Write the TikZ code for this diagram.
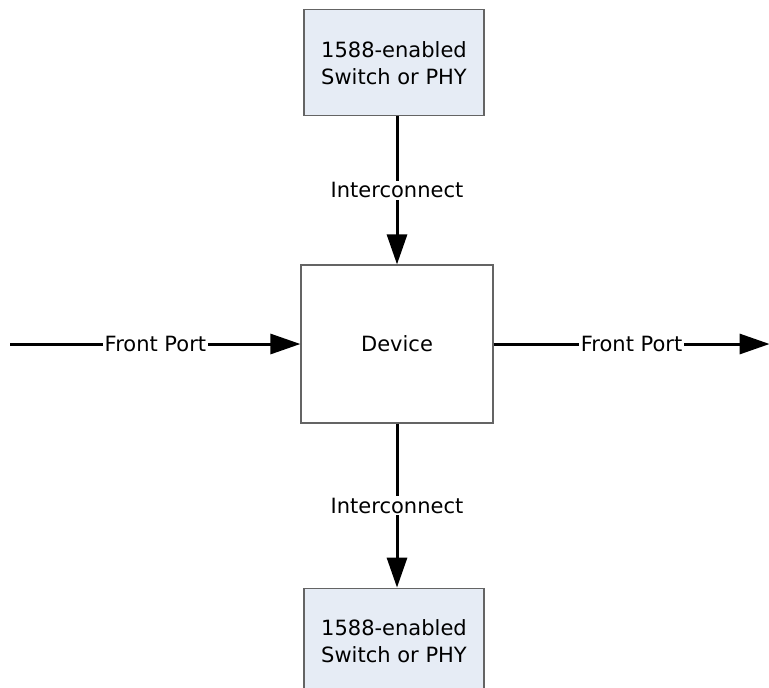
\documentclass[tikz,border=0pt]{standalone}
\usepackage{fontspec}
\setmainfont{DejaVu Sans}
\usetikzlibrary{positioning,arrows.meta}
\definecolor{boxfill}{RGB}{230,236,245}
\definecolor{boxline}{RGB}{100,100,100}
\begin{document}
\begin{tikzpicture}[>={Triangle[length=15pt,width=10pt]},
		font=\fontsize{10.5}{13.5}\selectfont,
		swbox/.style={draw=boxline, line width=0.6pt, fill=boxfill, minimum width=90pt, minimum height=53pt, align=center, inner sep=0pt},
		devbox/.style={draw=boxline, line width=0.6pt, fill=white, minimum width=96pt, minimum height=79pt, inner sep=0pt},
		link/.style={->, line width=1.5pt, black},
		lbl/.style={fill=white, inner sep=1pt}]
				\useasboundingbox (0,0) rectangle (384.5pt,-343.5pt);
				% Khối thiết bị ở giữa
				\node[devbox] (device) at (198.5pt,-172pt) {Device};
				% Hai khối switch trên và dưới
				\node[swbox, above=74pt of device.north, anchor=south, xshift=-1.5pt] (swtop) {1588-enabled\\Switch or PHY};
				\node[swbox, below=82pt of device.south, anchor=north, xshift=-1.5pt] (swbot) {1588-enabled\\Switch or PHY};
				% Điểm đầu và cuối của cổng trước
				\coordinate[left=145pt of device.west] (inport);
				\coordinate[right=138pt of device.east] (outport);
				% Các mũi tên nối
				\draw[link] (swtop.south -| device.north) -- node[lbl] {Interconnect} (device.north);
				\draw[link] (device.south) -- node[lbl] {Interconnect} (swbot.north -| device.south);
				\draw[link] (inport) -- node[lbl] {Front Port} (device.west);
				\draw[link] (device.east) -- node[lbl] {Front Port} (outport);
			\end{tikzpicture}
\end{document}
